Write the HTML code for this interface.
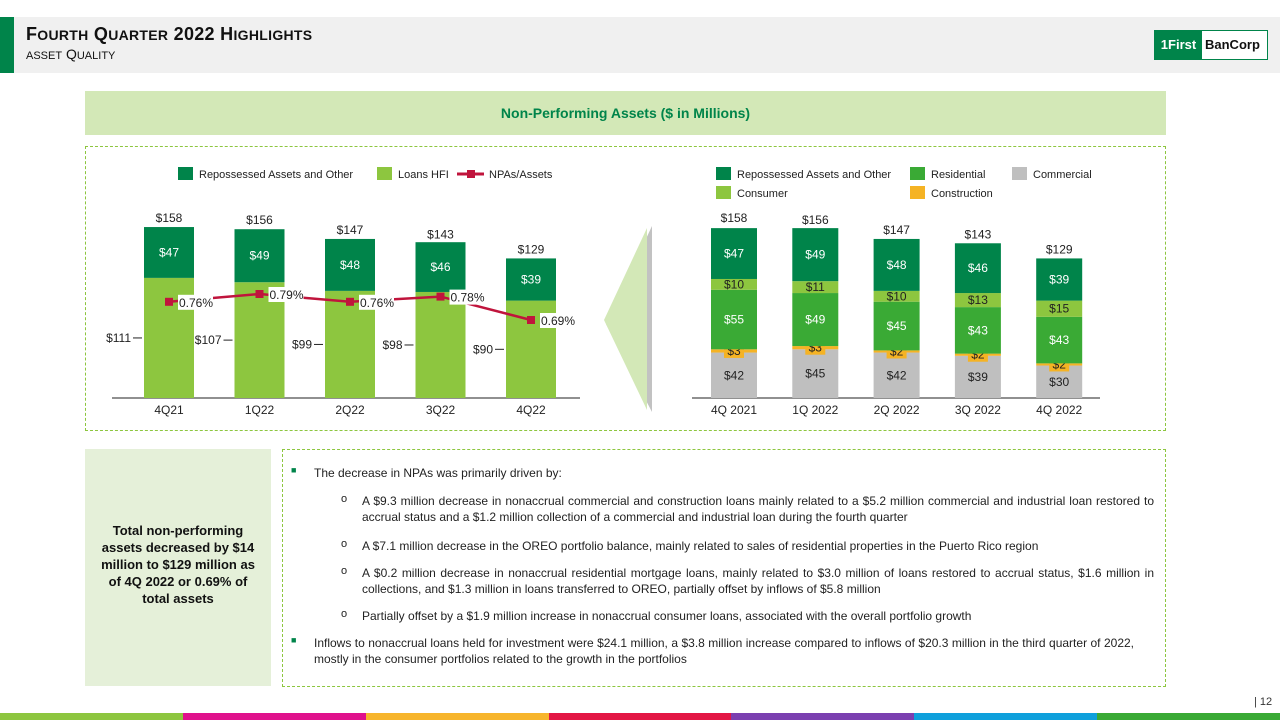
<!DOCTYPE html>
<html><head><meta charset="utf-8"><style>
body{margin:0;width:1280px;height:720px;position:relative;background:#fff;font-family:"Liberation Sans",sans-serif;overflow:hidden}
.abs{position:absolute}
.hdr{left:0;top:17px;width:1280px;height:56px;background:#f0f0f0}
.p{position:absolute;font-size:12px;line-height:16px;color:#222;text-align:justify}
.sub{left:362px;width:792px}
.mk{position:absolute;font-size:11px;color:#222}
</style></head><body>
<div class="abs hdr"></div>
<div class="abs" style="left:0;top:17px;width:14px;height:56px;background:#00844a"></div>
<div class="abs" style="left:26px;top:24px;font-size:18px;font-weight:bold;color:#111;letter-spacing:0.3px">F<span style="font-size:14px">OURTH</span> Q<span style="font-size:14px">UARTER</span> 2022 H<span style="font-size:14px">IGHLIGHTS</span></div>
<div class="abs" style="left:26px;top:46px;font-size:14px;color:#111"><span style="font-size:11px">ASSET</span> Q<span style="font-size:11px">UALITY</span></div>
<div class="abs" style="left:1154px;top:30px;width:112px;height:28px;border:1px solid #00844a;background:#fff">
<div style="position:absolute;left:0;top:0;width:47px;height:28px;background:#00844a;color:#fff;font-weight:bold;font-size:13px;line-height:28px;text-align:center">1First</div>
<div style="position:absolute;left:50px;top:0;font-weight:bold;font-size:13px;line-height:28px;color:#111">BanCorp</div></div>

<div class="abs" style="left:85px;top:91px;width:1081px;height:44px;background:#d3e8b7;color:#00844a;font-weight:bold;font-size:14px;line-height:44px;text-align:center">Non-Performing Assets ($ in Millions)</div>
<div class="abs" style="left:85px;top:146px;width:1079px;height:283px;border:1px dashed #8dc63f"></div>

<svg class="abs" style="left:0;top:0" width="1280" height="440" id="charts"></svg>

<div class="abs" style="left:85px;top:449px;width:186px;height:237px;background:#e5f0d9"></div>
<div class="abs" style="left:96px;top:522px;width:164px;font-size:13px;font-weight:bold;line-height:17px;text-align:center;color:#111">Total non-performing assets decreased by $14 million to $129 million as of 4Q 2022 or 0.69% of total assets</div>
<div class="abs" style="left:282px;top:449px;width:882px;height:236px;border:1px dashed #8dc63f"></div>

<div class="mk" style="left:291px;top:465px;color:#00844a;font-size:9px">■</div>
<div class="p" style="left:314px;top:465px;width:840px">The decrease in NPAs was primarily driven by:</div>
<div class="mk" style="left:341px;top:493px">o</div>
<div class="p sub" style="top:493px">A $9.3 million decrease in nonaccrual commercial and construction loans mainly related to a $5.2 million commercial and industrial loan restored to accrual status and a $1.2 million collection of a commercial and industrial loan during the fourth quarter</div>
<div class="mk" style="left:341px;top:538px">o</div>
<div class="p sub" style="top:538px">A $7.1 million decrease in the OREO portfolio balance, mainly related to sales of residential properties in the Puerto Rico region</div>
<div class="mk" style="left:341px;top:565px">o</div>
<div class="p sub" style="top:565px">A $0.2 million decrease in nonaccrual residential mortgage loans, mainly related to $3.0 million of loans restored to accrual status, $1.6 million in collections, and $1.3 million in loans transferred to OREO, partially offset by inflows of $5.8 million</div>
<div class="mk" style="left:341px;top:608px">o</div>
<div class="p sub" style="top:608px">Partially offset by a $1.9 million increase in nonaccrual consumer loans, associated with the overall portfolio growth</div>
<div class="mk" style="left:291px;top:635px;color:#00844a;font-size:9px">■</div>
<div class="p" style="left:314px;top:635px;width:820px">Inflows to nonaccrual loans held for investment were $24.1 million, a $3.8 million increase compared to inflows of $20.3 million in the third quarter of 2022, mostly in the consumer portfolios related to the growth in the portfolios</div>

<div class="abs" style="left:1254px;top:696px;font-size:11px;color:#333">| 12</div>
<div class="abs" style="left:0;top:713px;width:1280px;height:7px;display:flex">
<div style="flex:1;background:#8dc63f"></div><div style="flex:1;background:#e0118c"></div><div style="flex:1;background:#f7b52c"></div><div style="flex:1;background:#e31645"></div><div style="flex:1;background:#7b3fb0"></div><div style="flex:1;background:#0ea0dc"></div><div style="flex:1;background:#3aaa35"></div></div>

<script>
const leftCats=["4Q21","1Q22","2Q22","3Q22","4Q22"];
const loansHFI=[111,107,99,98,90];
const repoLeft=[47,49,48,46,39];
const totalsLeft=[158,156,147,143,129];
const npaPct=[0.76,0.79,0.76,0.78,0.69];
const rightCats=["4Q 2021","1Q 2022","2Q 2022","3Q 2022","4Q 2022"];
const commercial=[42,45,42,39,30];
const construction=[3,3,2,2,2];
const residential=[55,49,45,43,43];
const consumer=[10,11,10,13,15];
const repoRight=[47,49,48,46,39];
const totalsRight=[158,156,147,143,129];

const svg=document.getElementById('charts');
const NS="http://www.w3.org/2000/svg";
function el(tag,attrs,text){const e=document.createElementNS(NS,tag);for(const k in attrs)e.setAttribute(k,attrs[k]);if(text!==undefined)e.textContent=text;svg.appendChild(e);return e;}
const base=398, k=1.082;
const yv=v=>base-v*k;
const yp=p=>294+(0.79-p)*260;
const xL=i=>169+i*90.5;
const xR=i=>734+i*81.3;
const C={repo:"#00844a",loans:"#8dc63f",res:"#3aaa35",com:"#bfbfbf",con:"#f5b324",cons:"#8dc63f",line:"#c0143c"};

let r;
r=el('rect',{x:178,y:167,width:15,height:13,fill:C.repo});
r=el('text',{x:199,y:178,'font-size':11,fill:'#222'},'Repossessed Assets and Other');
r=el('rect',{x:377,y:167,width:15,height:13,fill:C.loans});
r=el('text',{x:398,y:178,'font-size':11,fill:'#222'},'Loans HFI');
r=el('line',{x1:457,y1:174,x2:484,y2:174,stroke:C.line,'stroke-width':3});
r=el('rect',{x:467,y:170,width:8,height:8,fill:C.line});
r=el('text',{x:489,y:178,'font-size':11,fill:'#222'},'NPAs/Assets');

r=el('line',{x1:112,y1:base,x2:580,y2:base,stroke:'#222','stroke-width':1});
leftCats.forEach((c,i)=>{
  const x=xL(i),w=50;
  let b=el('rect',{x:x-w/2,y:yv(loansHFI[i]),width:w,height:loansHFI[i]*k,fill:C.loans});
  
  b=el('rect',{x:x-w/2,y:yv(loansHFI[i]+repoLeft[i]),width:w,height:repoLeft[i]*k,fill:C.repo});
  
  let t=el('text',{x:x,y:yv(loansHFI[i]+repoLeft[i]/2)+4,'font-size':12,fill:'#fff','text-anchor':'middle'},'$'+repoLeft[i]);
  
  t=el('text',{x:x,y:yv(totalsLeft[i])-5,'font-size':12,fill:'#222','text-anchor':'middle'},'$'+totalsLeft[i]);
  
  const ym=yv(loansHFI[i]/2);
  t=el('text',{x:x-w/2-13,y:ym+4,'font-size':12,fill:'#222','text-anchor':'end'},'$'+loansHFI[i]);
  
  t=el('line',{x1:x-w/2-11,y1:ym,x2:x-w/2-2,y2:ym,stroke:'#222'});
  
  t=el('text',{x:x,y:base+16,'font-size':12,fill:'#222','text-anchor':'middle'},c);
  
});
let pts=npaPct.map((p,i)=>xL(i)+','+yp(p)).join(' ');
r=el('polyline',{points:pts,fill:'none',stroke:C.line,'stroke-width':2.5});
npaPct.forEach((p,i)=>{
  const x=xL(i),y=yp(p);
  let m=el('rect',{x:x-4,y:y-4,width:8,height:8,fill:C.line});
  let bg=el('rect',{x:x+9,y:y-7,width:35,height:15,fill:'#fff'});
  let t=el('text',{x:x+10,y:y+5,'font-size':12,fill:'#222'},p.toFixed(2)+'%');
});

r=el('polygon',{points:'652,226 652,412 606,324',fill:'#999',opacity:0.6});
r=el('polygon',{points:'647,228 647,410 604,320',fill:'#d3e8b7'});

const leg=[["Repossessed Assets and Other",C.repo,716,167],["Residential",C.res,910,167],["Commercial",C.com,1012,167],["Consumer",C.cons,716,186],["Construction",C.con,910,186]];
leg.forEach(l=>{
  let s=el('rect',{x:l[2],y:l[3],width:15,height:13,fill:l[1]});
  let t=el('text',{x:l[2]+21,y:l[3]+11,'font-size':11,fill:'#222'},l[0]);
});
r=el('line',{x1:692,y1:base,x2:1100,y2:base,stroke:'#222'});
const series=[["commercial",commercial,C.com,'#222'],["construction",construction,C.con,'#222'],["residential",residential,C.res,'#fff'],["consumer",consumer,C.cons,'#222'],["repossessed",repoRight,C.repo,'#fff']];
rightCats.forEach((c,i)=>{
  const x=xR(i),w=46;let cum=0;
  series.forEach(s=>{
    const v=s[1][i];
    let b=el('rect',{x:x-w/2,y:yv(cum+v),width:w,height:v*k,fill:s[2]});
    
    const ym=yv(cum+v/2);
    if(s[0]==='construction'){
      let bg=el('rect',{x:x-10,y:ym-7,width:20,height:14,fill:C.con});
    }
    let t=el('text',{x:x,y:ym+4,'font-size':12,fill:s[3],'text-anchor':'middle'},'$'+v);
    
    cum+=v;
  });
  let t=el('text',{x:x,y:yv(totalsRight[i])-5,'font-size':12,fill:'#222','text-anchor':'middle'},'$'+totalsRight[i]);
  
  t=el('text',{x:x,y:base+16,'font-size':12,fill:'#222','text-anchor':'middle'},c);
  
});
</script>
</body></html>
